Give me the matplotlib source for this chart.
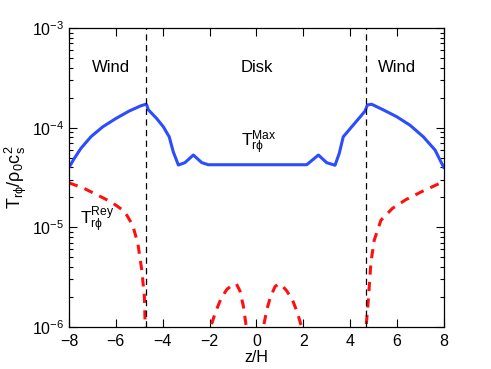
import numpy as np
import matplotlib
matplotlib.use("Agg")
import matplotlib.pyplot as plt
from matplotlib.ticker import LogLocator, NullFormatter, FixedLocator

plt.rcParams['font.family'] = ['Liberation Sans', 'DejaVu Sans']
plt.rcParams['mathtext.fontset'] = 'custom'
plt.rcParams['mathtext.rm'] = 'Liberation Sans'
plt.rcParams['mathtext.it'] = 'Liberation Sans'
plt.rcParams['mathtext.default'] = 'rm'

# Maxwell stress (blue solid)
z_max = [-8.0, -7.77, -7.49, -7.06, -6.56, -5.99, -5.43, -4.93, -4.71, -4.68, -4.61,
         -4.26, -3.97, -3.72, -3.55, -3.33, -3.05, -2.69, -2.33, -2.05,
         2.15, 2.65, 3.0, 3.36, 3.54, 3.71, 4.07, 4.5, 4.64, 4.74, 4.92,
         5.42, 5.99, 6.56, 7.13, 7.63, 8.0]
t_max = [4.0e-5, 4.93e-5, 6.21e-5, 8.13e-5, 1.02e-4, 1.24e-4, 1.47e-4, 1.66e-4, 1.72e-4,
         1.69e-4, 1.51e-4, 1.24e-4, 1.02e-4, 8.1e-5, 5.75e-5, 4.22e-5, 4.46e-5, 5.32e-5,
         4.46e-5, 4.25e-5,
         4.25e-5, 5.32e-5, 4.46e-5, 4.2e-5, 5.53e-5, 8.1e-5, 1.02e-4, 1.34e-4, 1.47e-4,
         1.69e-4, 1.72e-4, 1.51e-4, 1.29e-4, 1.06e-4, 8.1e-5, 5.97e-5, 4.0e-5]

# Reynolds stress (red dashed), separate segments
z_rey_l = [-8.0, -7.34, -6.77, -6.2, -5.63, -5.28, -5.06, -4.89, -4.78, -4.75, -4.72]
t_rey_l = [2.8e-5, 2.45e-5, 2.1e-5, 1.8e-5, 1.45e-5, 1.05e-5, 6.9e-6, 3.7e-6, 2.0e-6, 1.1e-6, 5e-7]
z_rey_c1 = [-2.0, -1.95, -1.75, -1.5, -1.25, -1.0, -0.85, -0.7, -0.55, -0.43, -0.4]
t_rey_c1 = [5e-7, 1.0e-6, 1.4e-6, 1.95e-6, 2.4e-6, 2.65e-6, 2.7e-6, 2.3e-6, 1.6e-6, 1.0e-6, 5e-7]
z_rey_c2 = [0.27, 0.3, 0.45, 0.6, 0.8, 0.95, 1.1, 1.3, 1.55, 1.75, 1.93, 1.98]
t_rey_c2 = [5e-7, 1.0e-6, 1.5e-6, 2.0e-6, 2.55e-6, 2.7e-6, 2.6e-6, 2.3e-6, 1.85e-6, 1.4e-6, 1.0e-6, 5e-7]
z_rey_r = [4.68, 4.70, 4.79, 4.89, 5.03, 5.32, 5.81, 6.39, 7.09, 7.88, 8.0]
t_rey_r = [5e-7, 1.1e-6, 2.0e-6, 4.4e-6, 7.4e-6, 1.18e-5, 1.55e-5, 1.9e-5, 2.3e-5, 2.8e-5, 2.9e-5]

z_boundary = [-4.7, 4.7]
x_ticks = [-8, -6, -4, -2, 0, 2, 4, 6, 8]

fig = plt.figure(figsize=(4.91, 3.69), dpi=100)
ax = fig.add_axes([0.1405, 0.1138, 0.7632, 0.8102])

blue = '#2b4cff'
red = '#ff1010'
ax.plot(z_max, t_max, color=blue, lw=2.2, solid_joinstyle='round')
for zz, tt in [(z_rey_l, t_rey_l), (z_rey_c1, t_rey_c1), (z_rey_c2, t_rey_c2), (z_rey_r, t_rey_r)]:
    ax.plot(zz, tt, color=red, lw=2.2, dashes=(3.0, 2.4))
for zb in z_boundary:
    ax.axvline(zb, color='black', lw=0.9, dashes=(5, 3.5))

ax.set_yscale('log')
ax.set_xlim(-8, 8)
ax.set_ylim(1e-6, 1e-3)
ax.xaxis.set_major_locator(FixedLocator(x_ticks))
ax.set_xticklabels([str(t).replace('-', '\u2212') for t in x_ticks])
ax.yaxis.set_major_locator(LogLocator(base=10, numticks=10))
ax.yaxis.set_minor_locator(LogLocator(base=10, subs=np.arange(2, 10), numticks=20))
ax.yaxis.set_minor_formatter(NullFormatter())
ax.tick_params(which='both', direction='in', top=True, right=True, labelsize=11.5)
ax.tick_params(which='major', length=6, width=0.8)
ax.tick_params(which='minor', length=3, width=0.8)
ax.tick_params(axis='x', pad=5)
for s in ax.spines.values():
    s.set_linewidth(0.9)

ax.set_xlabel('z/H', fontsize=11.5, labelpad=1)
ax.set_ylabel(r'$T_{r\phi}/\rho_0c_s^2$', fontsize=13, labelpad=2)

ax.text(-6.2, 4e-4, 'Wind', fontsize=12, ha='center', va='center')
ax.text(0.0, 4e-4, 'Disk', fontsize=12, ha='center', va='center')
ax.text(6.0, 4e-4, 'Wind', fontsize=12, ha='center', va='center')
ax.text(-0.65, 7.0e-5, r'$T^{\rm Max}_{r\phi}$', fontsize=12.5, ha='left', va='center')
ax.text(-7.55, 1.2e-5, r'$T^{\rm Rey}_{r\phi}$', fontsize=12.5, ha='left', va='center')

fig.savefig('out.png', dpi=100)
